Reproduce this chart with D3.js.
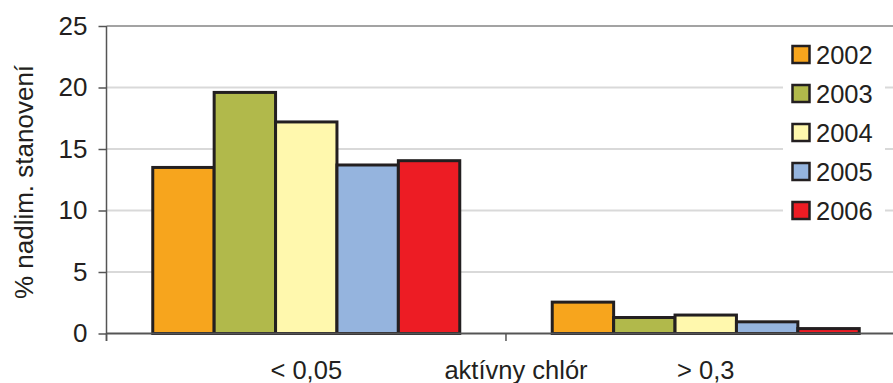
<!DOCTYPE html>
<html>
<head>
<meta charset="utf-8">
<script src="https://cdn.jsdelivr.net/npm/d3@7"></script>
<style>
  body { margin: 0; background: #fff; }
  svg { display: block; font-family: "Liberation Sans", Arial, sans-serif; }
</style>
</head>
<body>
<div id="chart"></div>
<script>
var categories = ["< 0,05", "> 0,3"];
var years = ["2002", "2003", "2004", "2005", "2006"];
var values2002 = [13.5, 2.55];
var values2003 = [19.6, 1.3];
var values2004 = [17.2, 1.5];
var values2005 = [13.7, 0.95];
var values2006 = [14.05, 0.4];
var yTicks = [0, 5, 10, 15, 20, 25];
var xTitle = "aktívny chlór";
var yTitle = "% nadlim. stanovení";

var series = [values2002, values2003, values2004, values2005, values2006];
var colors = ["#f7a51d", "#b1b94b", "#fff8ad", "#95b4de", "#ed1c24"];

var W = 893, H = 383;
// plot area (note: don't call these top/left, window.top is read-only)
var plotL = 106.5, plotR = 905.5, plotT = 26, plotB = 333.5;

var svg = d3.select("#chart").append("svg")
    .attr("width", W)
    .attr("height", H);

var x0 = d3.scaleBand()
    .domain(categories)
    .range([plotL, plotR])
    .paddingInner(0.2315)
    .paddingOuter(0.1158);

var x1 = d3.scaleBand()
    .domain(years)
    .range([0, x0.bandwidth()]);

var y = d3.scaleLinear()
    .domain([0, 25])
    .range([plotB, plotT]);

// gridlines
svg.selectAll("line.grid")
    .data(yTicks.filter(function (d) { return d > 0; }))
    .enter()
    .append("line")
    .attr("class", "grid")
    .attr("x1", plotL)
    .attr("x2", W)
    .attr("y1", function (d) { return y(d); })
    .attr("y2", function (d) { return y(d); })
    .attr("stroke", function (d) { return d === 25 ? "#a3a3a3" : "#d9d9d9"; })
    .attr("stroke-width", 2);

// y axis
var yAxis = d3.axisLeft(y)
    .tickValues(yTicks)
    .tickSize(8)
    .tickPadding(11);

var gy = svg.append("g")
    .attr("transform", "translate(" + plotL + ",0)")
    .call(yAxis);
gy.select(".domain").remove();
gy.selectAll(".tick line").attr("stroke", "#555").attr("stroke-width", 1.5);
gy.selectAll(".tick text")
    .attr("font-size", 26)
    .attr("fill", "#231f20")
    .attr("font-family", "Liberation Sans, Arial, sans-serif");

svg.append("line")
    .attr("x1", plotL).attr("x2", plotL)
    .attr("y1", plotT).attr("y2", plotB + 7.5)
    .attr("stroke", "#555")
    .attr("stroke-width", 1.5);

// bars
var group = svg.selectAll("g.cat")
    .data(categories)
    .enter()
    .append("g")
    .attr("class", "cat")
    .attr("transform", function (d) { return "translate(" + x0(d) + ",0)"; });

group.selectAll("rect")
    .data(function (d, i) {
        return years.map(function (yr, j) { return { year: yr, value: series[j][i], color: colors[j] }; });
    })
    .enter()
    .append("rect")
    .attr("x", function (d) { return x1(d.year); })
    .attr("y", function (d) { return y(d.value); })
    .attr("width", x1.bandwidth())
    .attr("height", function (d) { return y(0) - y(d.value); })
    .attr("fill", function (d) { return d.color; })
    .attr("stroke", "#231f20")
    .attr("stroke-width", 3);

// x axis line + tick between categories
svg.append("line")
    .attr("x1", plotL).attr("x2", W)
    .attr("y1", plotB).attr("y2", plotB)
    .attr("stroke", "#555")
    .attr("stroke-width", 2);

var step = x0.step();
svg.selectAll("line.xtick")
    .data(d3.range(categories.length + 1))
    .enter()
    .append("line")
    .attr("class", "xtick")
    .attr("x1", function (i) { return plotL + i * step; })
    .attr("x2", function (i) { return plotL + i * step; })
    .attr("y1", plotB)
    .attr("y2", plotB + 7.5)
    .attr("stroke", "#555")
    .attr("stroke-width", 1.5);

svg.selectAll("text.xlabel")
    .data(categories)
    .enter()
    .append("text")
    .attr("class", "xlabel")
    .attr("x", function (d) { return x0(d) + x0.bandwidth() / 2; })
    .attr("y", 379)
    .attr("text-anchor", "middle")
    .attr("font-size", 25.5)
    .attr("fill", "#231f20")
    .text(function (d) { return d; });

// axis titles
svg.append("text")
    .attr("x", 516)
    .attr("y", 379)
    .attr("text-anchor", "middle")
    .attr("font-size", 25.5)
    .attr("fill", "#231f20")
    .text(xTitle);

svg.append("text")
    .attr("transform", "translate(33,182) rotate(-90)")
    .attr("text-anchor", "middle")
    .attr("font-size", 26)
    .attr("fill", "#231f20")
    .text(yTitle);

// legend
var legend = svg.append("g");
legend.append("rect")
    .attr("x", 783).attr("y", 36)
    .attr("width", 102).attr("height", 193)
    .attr("fill", "#fff");

var item = legend.selectAll("g.item")
    .data(years)
    .enter()
    .append("g")
    .attr("class", "item")
    .attr("transform", function (d, i) { return "translate(0," + (54.5 + i * 39) + ")"; });

item.append("rect")
    .attr("x", 792.5).attr("y", -8.5)
    .attr("width", 17).attr("height", 17)
    .attr("fill", function (d, i) { return colors[i]; })
    .attr("stroke", "#231f20")
    .attr("stroke-width", 2.5);

item.append("text")
    .attr("x", 816)
    .attr("y", 9)
    .attr("font-size", 25.5)
    .attr("fill", "#231f20")
    .text(function (d) { return d; });
</script>
</body>
</html>
